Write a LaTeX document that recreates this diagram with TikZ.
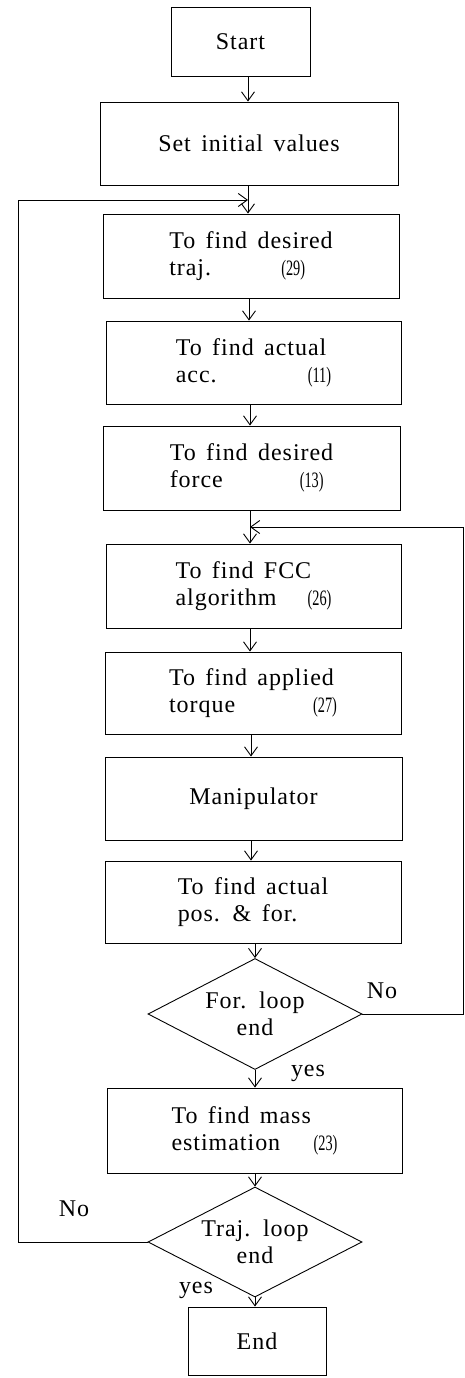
\documentclass[tikz,border=0pt]{standalone}
\usepackage{fontspec}
\usepackage{graphicx}
\usetikzlibrary{shapes.geometric,arrows.meta}
\newfontfamily\lsfont{Liberation Serif}[LetterSpace=4,WordSpace=1.5]
\newfontfamily\lnfont{Liberation Serif}
\newcommand\mainf{\lsfont\fontsize{24}{27}\selectfont}
\newcommand\numf[1]{\scalebox{0.65}[1]{\lnfont\fontsize{22}{24}\selectfont(#1)}}
\begin{document}
\begin{tikzpicture}[x=1pt,y=-1pt,
  box/.style={draw, line width=0.9pt, inner sep=0pt, minimum width=296pt, minimum height=84pt, align=left, font=\mainf},
  dec/.style={draw, diamond, line width=0.9pt, inner sep=0pt, minimum width=214pt, minimum height=111pt, aspect=1.9, align=center, font=\mainf},
  lbl/.style={font=\mainf, inner sep=0pt},
  arr/.style={line width=0.9pt, -{Straight Barb[length=9pt,width=13pt,line width=0.9pt]}},
  ln/.style={line width=0.9pt}]
\useasboundingbox (0,0) rectangle (464,1378);
\fill[white] (0,0) rectangle (464,1378);

\node[box, minimum width=139pt, minimum height=69pt] (start) at (240.5,41.5) {Start};
\node[box, minimum width=298pt, minimum height=83pt] (init) at (249,143.5) {Set initial values};
\node[box] (traj) at (251,256) {To find desired\\\makebox[112pt][l]{traj.}\numf{29}};
\node[box, minimum width=295pt, minimum height=83pt] (acc) at (253.5,362.5) {To find actual\\\makebox[132pt][l]{acc.}\numf{11}};
\node[box, minimum width=297pt] (force) at (251.5,468) {To find desired\\\makebox[130pt][l]{force}\numf{13}};
\node[box, minimum width=295pt] (fcc) at (253.5,586) {To find FCC\\\makebox[132pt][l]{algorithm}\numf{26}};
\node[box, minimum height=82pt] (torque) at (253,693) {To find applied\\\makebox[144pt][l]{torque}\numf{27}};
\node[box, minimum width=297pt, minimum height=83pt] (manip) at (253.5,798.5) {Manipulator};
\node[box, minimum height=82pt] (pos) at (253,902) {To find actual\\pos. \& for.};
\node[dec] (forend) at (255,1014) {For. loop\\end};
\node[box, minimum width=295pt, minimum height=85pt] (mass) at (254.5,1130.5) {To find mass\\\makebox[142pt][l]{estimation}\numf{23}};
\node[dec, minimum height=110pt] (trajend) at (255,1242) {Traj. loop\\end};
\node[box, minimum width=138pt, minimum height=68pt] (endb) at (257,1341) {End};

\node[lbl] (no1) at (382,991) {No};
\node[lbl] (yes1) at (308,1073) {yes};
\node[lbl] (no2) at (74,1209) {No};
\node[lbl] (yes2) at (196,1290) {yes};

\coordinate (tl) at (18,200);
\coordinate (tm) at (248,200);
\coordinate (fr) at (463,527);
\coordinate (fm) at (250,527);

\draw[arr] (start.south -| tm) -- (tm |- init.north);
\draw[ln] (init.south -| tm) -- (tm);
\draw[arr] (tm) -- (tm |- traj.north);
\draw[arr] (traj.south -| 249,0) -- (249,0 |- acc.north);
\draw[arr] (acc.south -| 250,0) -- (250,0 |- force.north);
\draw[ln] (force.south -| fm) -- (fm);
\draw[arr] (fm) -- (fm |- fcc.north);
\draw[arr] (fcc.south -| 250,0) -- (250,0 |- torque.north);
\draw[arr] (torque.south -| 251,0) -- (251,0 |- manip.north);
\draw[arr] (manip.south -| 251,0) -- (251,0 |- pos.north);
\draw[arr] (pos.south -| forend.north) -- (forend.north);
\draw[arr] (forend.south) -- (forend.south |- mass.north);
\draw[arr] (mass.south -| trajend.north) -- (trajend.north);
\draw[arr] (trajend.south) -- (trajend.south |- endb.north);

\draw[arr] (forend.east) -| (fr) -- (fm);
\draw[arr] (trajend.west) -| (tl) -- (tm);
\end{tikzpicture}
\end{document}
